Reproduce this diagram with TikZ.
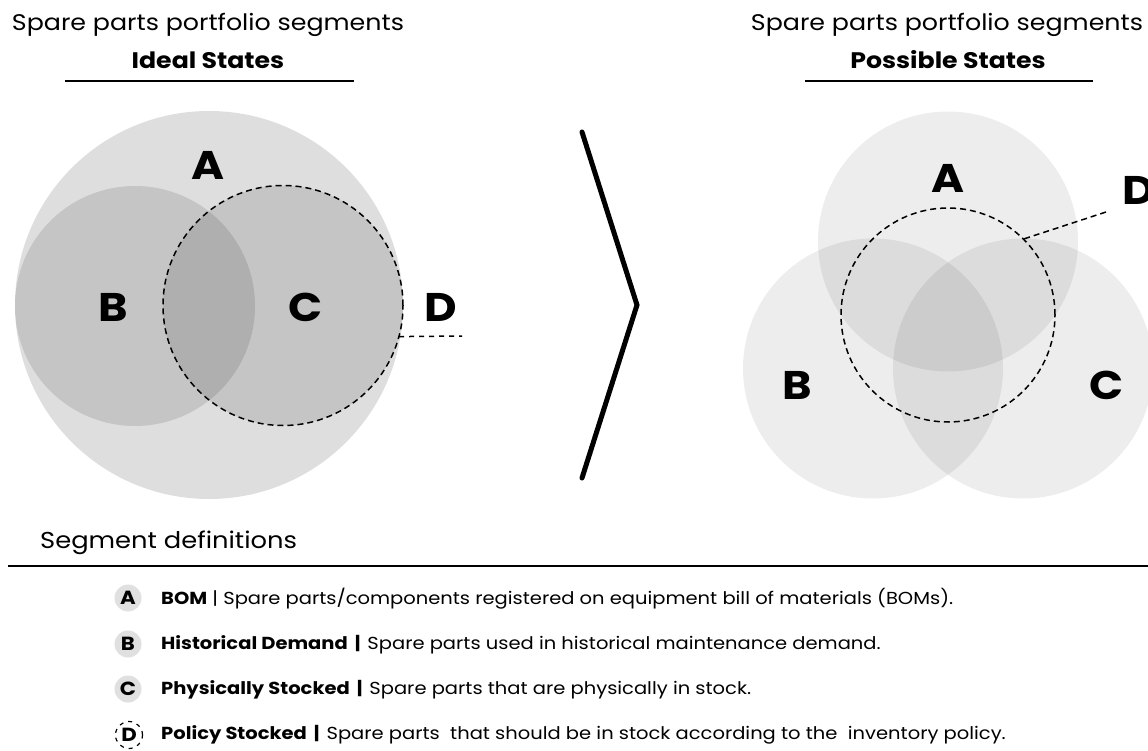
\documentclass[tikz,border=0pt]{standalone}
\usepackage{fontspec}
\setmainfont{Poppins}[FakeStretch=1.12]
\newcommand{\barsep}{\hspace{7pt}\textbf{|}\hspace{7pt}}
\begin{document}
\begin{tikzpicture}[x=1pt,y=-1pt,
  title/.style={font=\fontsize{22.6}{26}\selectfont},
  subtitle/.style={font=\fontsize{22.5}{26}\selectfont\bfseries},
  big/.style={font=\fontsize{40}{44}\selectfont\bfseries},
  rule/.style={line width=2pt},
  vcirc/.style={circle,draw=none,inner sep=0pt},
  dline/.style={line width=1.5pt,dash pattern=on 6pt off 4pt},
  leglet/.style={circle,inner sep=0pt,minimum size=27pt,font=\fontsize{19}{22}\selectfont\bfseries},
  legtext/.style={anchor=west,inner sep=0pt,font=\fontsize{17.4}{20}\selectfont},
]
\useasboundingbox (0,0) rectangle (1148,751);
\clip (0,0) rectangle (1148,751);

% titles
\node[title] (t1) at (208,25) {Spare parts portfolio segments};
\node[subtitle] (s1) at (208,60) {Ideal States};
\coordinate (r1a) at (65,81); \coordinate (r1b) at (354,81);
\draw[rule] (r1a) -- (r1b);
\node[title] (t2) at (947,25) {Spare parts portfolio segments};
\node[subtitle] (s2) at (948,60) {Possible States};
\coordinate (r2a) at (805,81); \coordinate (r2b) at (1093,81);
\draw[rule] (r2a) -- (r2b);

% left venn
\node[vcirc,minimum size=388pt,fill=black,fill opacity=0.13] (LA) at (209,305) {};
\node[vcirc,minimum size=240pt,fill=black,fill opacity=0.115] (LB) at (135,306) {};
\node[vcirc,minimum size=240pt,fill=black,fill opacity=0.115] (LC) at (283,305.5) {};
\draw[dline] (LC) circle[radius=120pt];
\node[big] (lA) at (208,165) {A};
\node[big] (lB) at (113,307) {B};
\node[big] (lC) at (306,307) {C};
\node[big] (lD) at (441,307) {D};
\coordinate (lDe) at (462,336);
\draw[dline,dash pattern=on 5pt off 5pt] (LC.-15) -- (lDe);

% chevron
\coordinate (ch1) at (582,132);
\coordinate (ch2) at (637,305);
\coordinate (ch3) at (582,478);
\draw[line width=5pt,line cap=round,line join=miter] (ch1) -- (ch2) -- (ch3);

% right venn
\node[vcirc,minimum size=260pt,fill=black,fill opacity=0.07] (RA) at (948,241.5) {};
\node[vcirc,minimum size=260pt,fill=black,fill opacity=0.07] (RB) at (873,368.5) {};
\node[vcirc,minimum size=260pt,fill=black,fill opacity=0.07] (RC) at (1023,368.5) {};
\node[circle,inner sep=0pt,minimum size=214pt,draw,dline] (RD) at (948,315) {};
\node[big] (rA) at (948,178) {A};
\node[big] (rB) at (797,385) {B};
\node[big] (rC) at (1107,385) {C};
\node[big] (rD) at (1139,190) {D};
\coordinate (rDe) at (1106,212);
\draw[dline] (RD.45) -- (rDe);

% segment definitions
\node[font=\fontsize{23}{26}\selectfont,anchor=west,inner sep=0pt] (sd) at (40,543) {Segment definitions};
\coordinate (sda) at (8,566); \coordinate (sdb) at (1148,566);
\draw[rule] (sda) -- (sdb);

\node[leglet,fill=black!12] (gA) at (128,598) {A};
\node[leglet,fill=black!12] (gB) at (128,644) {B};
\node[leglet,fill=black!12] (gC) at (128,689) {C};
\node[leglet,draw,line width=1.2pt,dash pattern=on 4pt off 5pt] (gD) at (129,735) {D};

\node[legtext] (xA) at (161,599) {\textbf{BOM} | Spare parts/components registered on equipment bill of materials (BOMs).};
\node[legtext] (xB) at (161,645) {\textbf{Historical Demand}\barsep Spare parts used in historical maintenance demand.};
\node[legtext] (xC) at (161,690) {\textbf{Physically Stocked}\barsep Spare parts that are physically in stock.};
\node[legtext] (xD) at (161,735) {\textbf{Policy Stocked}\barsep Spare parts~ that should be in stock according to the~ inventory policy.};
\end{tikzpicture}
\end{document}
